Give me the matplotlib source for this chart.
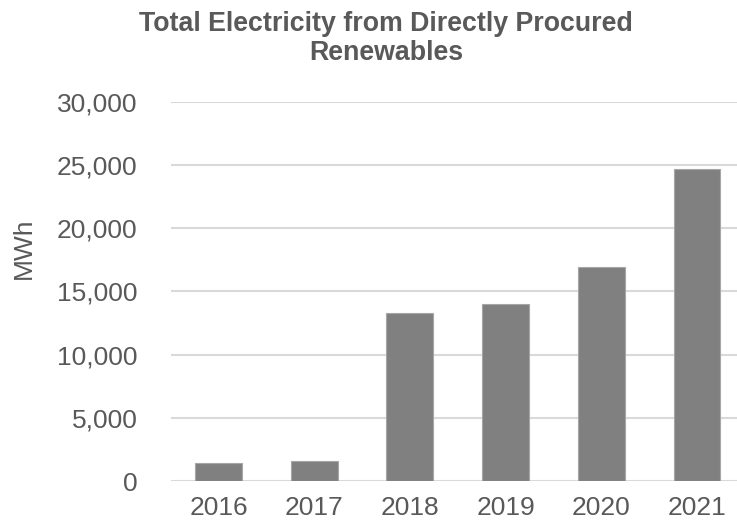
import numpy as np
import matplotlib
matplotlib.use('Agg')
import matplotlib.pyplot as plt
from matplotlib.ticker import FuncFormatter

plt.rcParams['font.family'] = ['Liberation Sans', 'DejaVu Sans']

years = ['2016', '2017', '2018', '2019', '2020', '2021']
mwh = [1450, 1580, 13260, 13970, 16950, 24680]

fig = plt.figure(figsize=(7.37, 5.25), dpi=100)
# plot area runs a bit past the right edge, as in the cropped original
ax = fig.add_axes([0.2316, 0.0838, 0.779, 0.7225])

x = np.arange(len(years))
ax.bar(x, mwh, width=0.49, color='#808080', edgecolor='#a6a6a6', linewidth=0.8, zorder=3)

ax.set_xlim(-0.5, len(years) - 0.5)
ax.set_ylim(0, 30000)
ax.set_yticks(np.arange(0, 30001, 5000))
ax.yaxis.set_major_formatter(FuncFormatter(lambda v, p: f'{int(v):,}'))
ax.set_xticks(x)
ax.set_xticklabels(years)

ax.grid(axis='y', color='#d9d9d9', linewidth=1.5, zorder=0)
for s in ax.spines.values():
    s.set_visible(False)
ax.tick_params(axis='both', length=0, labelsize=19, labelcolor='#595959')
ax.tick_params(axis='y', pad=24)
ax.tick_params(axis='x', pad=11)

fig.text(0.032, 0.527, 'MWh', rotation=90, fontsize=19, color='#595959', ha='center', va='center')
fig.text(0.5235, 0.9267, 'Total Electricity from Directly Procured\nRenewables', fontsize=19.3,
         fontweight='bold', color='#595959', ha='center', va='center', linespacing=1.17)

fig.savefig('out.png', dpi=100)
